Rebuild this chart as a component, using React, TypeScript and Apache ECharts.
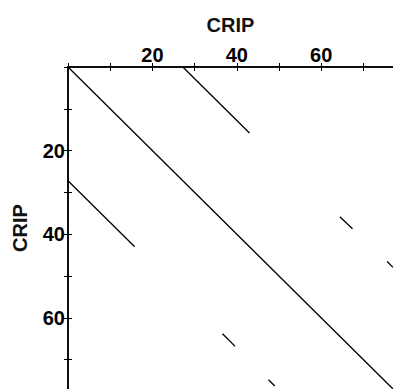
import React, { useEffect, useRef } from "react";
import * as echarts from "echarts";

// Sequence length / axis range
const seqLength = 77;
const tickStep = 10;
const labelValues = [20, 40, 60];
const axisTitle = "CRIP";

// Dot-plot diagonals (x = residue of CRIP on top axis, y = residue on left axis)
const mainDiagonal = [[0, 0], [77, 77]];
const repeatUpper = [[27.2, 0], [43.0, 15.8]];
const repeatLower = [[0, 27.2], [15.8, 43.0]];
const shortUpper = [[64.4, 35.8], [67.4, 38.7]];
const shortLower = [[36.6, 63.8], [39.6, 66.8]];
const edgeUpper = [[75.6, 46.5], [77, 47.9]];
const edgeLower = [[47.5, 74.8], [49.0, 76.3]];

const segments = [mainDiagonal, repeatUpper, repeatLower, shortUpper, shortLower, edgeUpper, edgeLower];

export default function App() {
  const ref = useRef<HTMLDivElement>(null);
  useEffect(() => {
    if (!ref.current) return;
    const chart = echarts.init(ref.current, null, { renderer: "svg" });
    const font = "'Liberation Sans', Arial, Helvetica, sans-serif";
    const axisLine = { show: true, lineStyle: { color: "#000", width: 1.5 } };
    const axisTick = { show: true, inside: true, length: 4, lineStyle: { color: "#000", width: 1 } };
    const labelFmt = (v: number) => (labelValues.indexOf(v) >= 0 ? String(v) : "");
    const labelStyle = { color: "#000", fontSize: 20, fontWeight: "bold" as const, fontFamily: font };
    const nameStyle = { color: "#111", fontSize: 20, fontWeight: "bold" as const, fontFamily: font };
    chart.setOption({
      animation: false,
      backgroundColor: "#fff",
      grid: { left: 68, top: 67, width: 325, height: 325, containLabel: false },
      xAxis: [
        {
          type: "value", position: "top", min: 0, max: seqLength, interval: tickStep,
          name: axisTitle, nameLocation: "middle", nameGap: 32,
          nameTextStyle: nameStyle,
          axisLine, axisTick, splitLine: { show: false },
          axisLabel: { ...labelStyle, margin: 2, formatter: labelFmt, showMinLabel: false, showMaxLabel: false },
        },
        {
          type: "value", position: "bottom", min: 0, max: seqLength, interval: tickStep,
          axisLine, axisTick, splitLine: { show: false }, axisLabel: { show: false },
        },
      ],
      yAxis: [
        {
          type: "value", position: "left", inverse: true, min: 0, max: seqLength, interval: tickStep,
          name: axisTitle, nameLocation: "middle", nameGap: 38, nameRotate: 90,
          nameTextStyle: nameStyle,
          axisLine, axisTick, splitLine: { show: false },
          axisLabel: { ...labelStyle, margin: 3, formatter: labelFmt, showMinLabel: false, showMaxLabel: false },
        },
        {
          type: "value", position: "right", inverse: true, min: 0, max: seqLength, interval: tickStep,
          axisLine, axisTick, splitLine: { show: false }, axisLabel: { show: false },
        },
      ],
      series: segments.map((seg) => ({
        type: "line",
        xAxisIndex: 0,
        yAxisIndex: 0,
        data: seg,
        showSymbol: false,
        symbol: "none",
        lineStyle: { color: "#000", width: 1.3 },
        silent: true,
      })),
    });
    return () => chart.dispose();
  }, []);
  return (
    <div
      ref={ref}
      style={{ position: "absolute", left: 0, top: 0, width: 393, height: 389, overflow: "hidden" }}
    />
  );
}
